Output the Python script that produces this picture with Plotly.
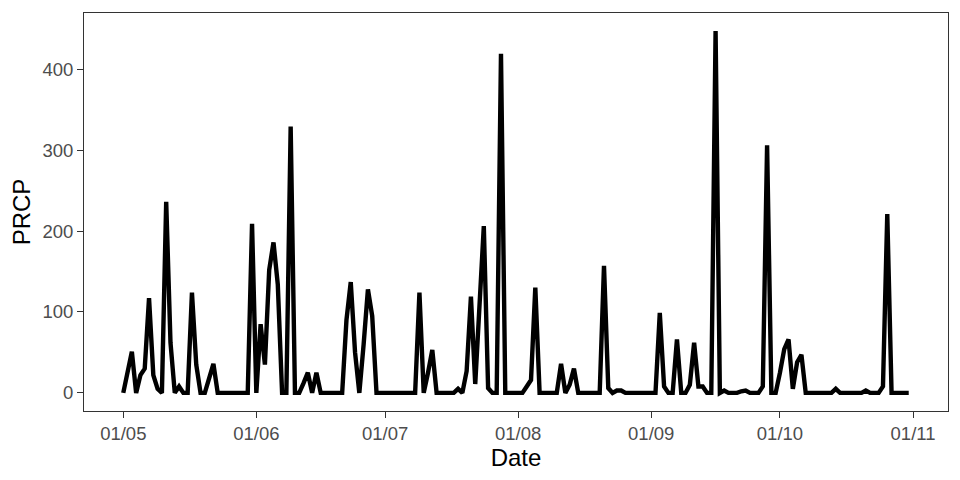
import pandas as pd
import plotly.graph_objects as go

# Daily precipitation (PRCP), 1 May - 31 Oct
prcp_may = [0, 27, 51, 0, 22, 30, 117, 22, 5, 0, 236, 62, 0, 8, 0, 0, 124, 35, 0, 0,
            18, 36, 0, 0, 0, 0, 0, 0, 0, 0, 209]
prcp_jun = [0, 85, 35, 152, 186, 134, 0, 0, 329, 0, 0, 12, 25, 0, 25, 0, 0, 0, 0, 0,
            0, 90, 137, 50, 0, 60, 128, 95, 0, 0]
prcp_jul = [0, 0, 0, 0, 0, 0, 0, 0, 124, 0, 25, 53, 0, 0, 0, 0, 0, 5, 0, 27,
            119, 11, 105, 206, 6, 0, 0, 419, 0, 0, 0]
prcp_aug = [0, 0, 8, 16, 130, 0, 0, 0, 0, 0, 36, 0, 10, 30, 0, 0, 0, 0, 0, 0,
            157, 6, 0, 3, 3, 0, 0, 0, 0, 0, 0]
prcp_sep = [0, 0, 99, 8, 0, 0, 66, 0, 0, 10, 62, 8, 8, 0, 0, 447, 0, 3, 0, 0,
            0, 2, 3, 0, 0, 0, 8, 306, 0, 0]
prcp_oct = [25, 54, 66, 5, 38, 47, 0, 0, 0, 0, 0, 0, 0, 5, 0, 0, 0, 0, 0, 0,
            3, 0, 0, 0, 8, 221, 0, 0, 0, 0, 0]

start_date = "2018-05-01"
end_date = "2018-10-31"
tick_dates = ["2018-05-01", "2018-06-01", "2018-07-01", "2018-08-01",
              "2018-09-01", "2018-10-01", "2018-11-01"]
tick_labels = ["01/05", "01/06", "01/07", "01/08", "01/09", "01/10", "01/11"]
y_ticks = [0, 100, 200, 300, 400]

prcp = prcp_may + prcp_jun + prcp_jul + prcp_aug + prcp_sep + prcp_oct
dates = pd.date_range(start_date, end_date, freq="D")

# ggplot-style 5% expansion
t0, t1 = pd.Timestamp(start_date), pd.Timestamp(end_date)
pad = (t1 - t0) * 0.05
xr = [(t0 - pad).isoformat(), (t1 + pad).isoformat()]
ymax, ymin = max(prcp), min(prcp)
ypad = (ymax - ymin) * 0.05
yr = [ymin - ypad, ymax + ypad]

fig = go.Figure()
fig.add_trace(go.Scatter(x=dates, y=prcp, mode="lines",
                         line=dict(color="black", width=4.4), showlegend=False))

axis_common = dict(
    showgrid=False, zeroline=False, showline=True, mirror=True,
    linecolor="#333333", linewidth=1.1, automargin=False,
    ticks="outside", ticklen=6, tickwidth=1.1, tickcolor="#333333",
    tickfont=dict(family="Liberation Sans", size=18.5, color="#4D4D4D"),
)

# page body has an 8px margin: figure sits at (8, 8)
fig.update_layout(
    width=952, height=472,
    margin=dict(l=76, r=12, t=5, b=69),
    paper_bgcolor="white", plot_bgcolor="white",
    font=dict(family="Liberation Sans"),
    xaxis=dict(axis_common, type="date", range=xr,
               tickvals=tick_dates, ticktext=tick_labels,
               title=dict(text="Date", font=dict(size=24, color="black"), standoff=3)),
    yaxis=dict(axis_common, range=yr, tickvals=y_ticks,
               title=dict(text="PRCP", font=dict(size=24, color="black"), standoff=9)),
)

fig.write_html("out.html")
